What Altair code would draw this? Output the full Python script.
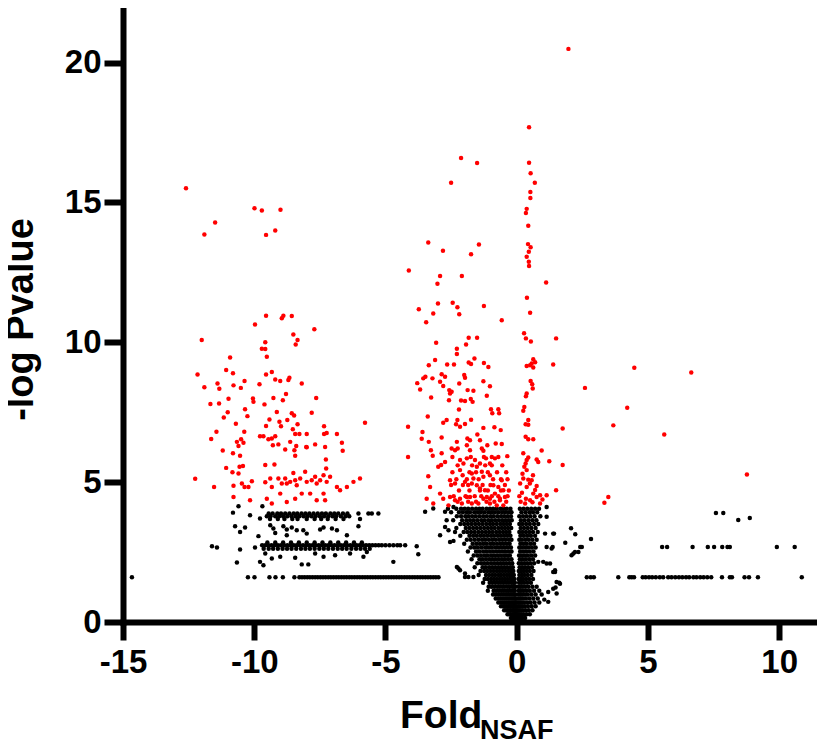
import altair as alt
import pandas as pd

X_TICKS = [-15, -10, -5, 0, 5, 10]
Y_TICKS = [0, 5, 10, 15, 20]

# ---------------- significant (red) points: (fold, -log p) ----------------
RED_COLUMN = [(1.97, 20.49), (0.47, 17.69), (0.47, 16.42), (0.53, 16.04), (0.69, 15.70), (0.52, 15.37),
              (0.52, 15.16), (0.38, 14.77), (0.35, 14.62), (0.44, 14.17), (0.43, 13.51), (0.53, 13.40),
              (0.46, 13.24), (0.38, 13.06), (0.46, 12.88), (0.47, 12.73), (1.12, 12.14), (0.39, 11.59),
              (0.51, 11.06), (0.28, 10.32), (0.35, 10.14), (1.50, 10.14), (0.54, 10.03), (0.63, 9.39),
              (0.70, 9.29), (0.57, 9.24), (1.39, 9.21), (0.51, 9.18), (0.38, 9.15), (0.63, 9.10),
              (0.53, 8.62), (0.59, 8.50), (0.61, 8.35), (0.38, 8.17), (0.35, 8.07), (0.29, 7.69),
              (0.25, 7.55), (0.44, 7.22), (0.34, 7.07), (0.44, 7.05), (1.75, 6.92), (0.34, 6.62),
              (0.44, 6.53), (0.63, 6.53), (0.95, 6.13), (0.25, 6.03), (0.44, 5.88), (0.76, 5.81),
              (0.38, 5.79), (1.24, 5.75), (0.82, 5.72), (0.34, 5.67), (1.75, 5.61), (0.29, 5.55),
              (0.38, 5.43), (0.25, 5.13), (0.44, 5.09), (0.57, 5.07), (0.13, 4.95), (0.76, 4.86),
              (0.38, 4.83), (1.50, 4.71), (0.63, 4.59), (0.89, 4.53), (1.14, 4.53), (0.35, 4.41),
              (0.76, 4.47), (0.51, 4.35), (0.32, 4.24), (0.89, 4.24), (0.15, 4.30), (0.60, 4.28),
              (0.20, 4.62), (0.70, 4.72), (0.98, 4.38), (0.10, 4.50), (0.50, 4.95), (0.22, 5.30),
              (0.62, 5.25)]

RED_RIGHT = [(4.48, 9.09), (6.65, 8.92), (2.60, 8.37), (4.21, 7.66), (3.68, 7.03), (5.62, 6.70),
             (8.77, 5.27), (3.49, 4.47), (3.34, 4.26)]

RED_MID = [(-2.12, 16.59), (-1.51, 16.41), (-2.50, 15.70), (-3.37, 13.57), (-2.81, 13.27), (-1.44, 13.50),
           (-1.74, 13.15), (-4.11, 12.57), (-2.92, 12.37), (-2.09, 12.37), (-3.02, 12.09), (-3.73, 11.18),
           (-3.18, 11.03), (-3.00, 11.39), (-2.44, 11.41), (-2.26, 11.25), (-2.19, 11.00), (-1.25, 11.30),
           (-3.45, 10.72), (-0.57, 10.79), (-3.07, 9.98), (-2.28, 9.77), (-2.28, 9.58), (-1.93, 9.92),
           (-1.83, 10.16), (-1.51, 10.16), (-3.11, 9.37), (-3.35, 9.18), (-2.65, 9.21), (-2.39, 9.21),
           (-1.83, 9.28), (-1.74, 9.22), (-1.61, 9.42), (-1.25, 9.26), (-1.08, 9.12), (-3.48, 8.77),
           (-3.56, 8.71), (-3.21, 8.71), (-2.86, 8.86), (-2.73, 8.77), (-2.00, 8.83), (-1.97, 8.73),
           (-3.79, 8.54), (-2.92, 8.59), (-3.68, 8.31), (-1.27, 8.61), (-1.02, 8.43), (-2.80, 8.44),
           (-2.57, 8.29), (-2.48, 8.23), (-2.54, 8.17), (-2.19, 8.53), (-1.87, 8.29), (-1.65, 8.27),
           (-3.26, 8.03), (-2.58, 7.93), (-2.12, 7.92), (-1.97, 7.90), (-1.75, 7.97), (-1.68, 7.87),
           (-1.14, 8.09), (-2.20, 7.60), (-0.98, 7.61), (-0.70, 7.61), (-0.93, 7.46), (-0.67, 7.46),
           (-3.39, 7.35), (-2.67, 7.22), (-2.80, 7.12), (-2.26, 7.22), (-2.31, 7.07), (-2.16, 6.98),
           (-1.97, 7.08), (-1.74, 7.23), (-1.27, 6.94), (-0.85, 6.96), (-0.61, 6.86), (-4.14, 6.98),
           (-3.59, 6.79), (-3.62, 6.55), (-2.86, 6.60), (-2.28, 6.44), (-1.88, 6.56), (-1.78, 6.50),
           (-1.50, 6.70), (-1.40, 6.50), (-1.12, 6.32), (-0.80, 6.38), (-3.35, 6.44), (-3.27, 6.14),
           (-2.48, 6.20), (-2.35, 6.14), (-2.25, 6.20), (-1.90, 6.32), (-1.78, 6.14), (-1.33, 6.20),
           (-1.27, 6.12), (-0.57, 6.36), (-4.14, 5.90), (-3.20, 5.94), (-2.86, 6.03), (-2.73, 5.72),
           (-2.16, 5.79), (-2.03, 5.67), (-1.90, 5.85), (-1.59, 5.79), (-1.52, 5.55), (-1.40, 5.67),
           (-1.17, 5.85), (-1.02, 5.67), (-0.83, 5.85), (-0.70, 5.90), (-0.36, 5.93), (-3.37, 5.21),
           (-3.30, 4.83), (-2.99, 5.55), (-2.88, 5.61), (-2.54, 5.07), (-2.35, 4.95), (-2.16, 5.43),
           (-2.06, 5.25), (-1.97, 5.01), (-1.71, 5.31), (-1.65, 5.13), (-1.52, 4.89), (-1.71, 4.95),
           (-1.33, 5.37), (-1.27, 5.19), (-1.40, 4.77), (-1.21, 4.71), (-1.02, 5.25), (-0.89, 4.89),
           (-0.83, 4.59), (-0.70, 4.83), (-0.57, 5.07), (-0.51, 4.71), (-0.45, 4.47), (-0.64, 4.41),
           (-3.43, 4.41), (-2.92, 4.59), (-2.54, 4.47), (-2.16, 4.41), (-1.78, 4.47), (-1.14, 4.47),
           (-1.02, 4.41), (-3.18, 4.24), (-2.80, 4.41), (-2.60, 4.17), (-2.35, 4.35), (-2.09, 4.24),
           (-1.90, 4.47), (-1.71, 4.24), (-1.46, 4.24), (-1.27, 4.41), (-1.02, 4.24), (-0.76, 4.17),
           (-0.64, 4.35), (-0.51, 4.17)]

RED_MID_ROWS = [(4.30, [-2.25, -1.85, -1.55, -1.15, -0.85, -0.40]),
                (4.50, [-2.40, -1.95, -1.60, -1.35, -0.95, -0.70, -0.35]),
                (4.70, [-2.20, -1.80, -1.40, -1.10, -0.60, -0.30]),
                (4.90, [-2.50, -2.05, -1.85, -1.30, -1.00, -0.45]),
                (5.10, [-2.30, -1.90, -1.45, -0.90, -0.60, -0.35]),
                (5.35, [-2.45, -1.80, -1.55, -1.10, -0.75, -0.40]),
                (5.60, [-2.25, -1.70, -1.20, -0.95, -0.55]),
                (5.90, [-2.45, -1.75, -1.25, -0.95])]

RED_LEFT = [(-12.60, 15.51), (-9.99, 14.79), (-9.71, 14.71), (-9.00, 14.74), (-11.49, 14.28), (-11.90, 13.85),
            (-9.55, 13.84), (-9.20, 14.00), (-9.55, 10.95), (-8.95, 10.86), (-8.89, 10.95), (-8.57, 10.94),
            (-9.97, 10.64), (-7.71, 10.47), (-12.00, 10.08), (-8.51, 10.28), (-8.35, 10.08), (-8.42, 9.92),
            (-9.58, 10.00), (-9.71, 9.77), (-9.58, 9.76), (-9.52, 9.48), (-10.92, 9.46), (-12.16, 8.85),
            (-11.07, 9.01), (-10.81, 8.89), (-9.55, 8.85), (-9.33, 8.94), (-9.01, 8.62), (-9.20, 8.67),
            (-8.70, 8.65), (-8.66, 8.73), (-8.19, 8.53), (-11.90, 8.39), (-11.40, 8.53), (-11.33, 8.34),
            (-10.79, 8.46), (-10.51, 8.37), (-10.37, 8.62), (-9.80, 8.50), (-10.05, 7.99), (-10.03, 7.87),
            (-9.61, 7.78), (-9.27, 8.01), (-8.91, 7.93), (-8.79, 8.15), (-10.98, 7.98), (-11.67, 7.79),
            (-11.34, 7.81), (-7.64, 8.01), (-10.35, 7.61), (-11.01, 7.50), (-11.16, 7.31), (-10.26, 7.36),
            (-9.14, 7.51), (-9.42, 7.24), (-8.57, 7.46), (-8.48, 7.38), (-8.74, 7.22), (-9.04, 7.16),
            (-8.98, 7.00), (-7.81, 7.48), (-10.70, 7.09), (-10.38, 6.80), (-9.55, 7.01), (-8.35, 7.07),
            (-8.53, 6.89), (-7.34, 7.00), (-5.78, 7.12), (-11.44, 6.80), (-9.78, 6.64), (-9.65, 6.64),
            (-9.46, 6.53), (-9.33, 6.56), (-9.20, 6.64), (-8.44, 6.72), (-8.28, 6.72), (-8.00, 6.72),
            (-7.34, 6.72), (-7.24, 6.76), (-6.85, 6.72), (-11.64, 6.54), (-10.50, 6.53), (-10.41, 6.41),
            (-10.66, 6.44), (-10.60, 6.29), (-9.29, 6.32), (-9.08, 6.35), (-8.63, 6.44), (-8.40, 6.29),
            (-8.02, 6.26), (-7.68, 6.35), (-6.66, 6.41), (-11.20, 6.13), (-10.81, 6.03), (-10.54, 5.94),
            (-8.82, 6.17), (-8.47, 6.14), (-8.44, 5.94), (-8.00, 6.25), (-7.30, 6.26), (-6.63, 6.12),
            (-9.58, 5.61), (-9.23, 5.63), (-7.27, 5.81), (-7.26, 5.49), (-11.07, 5.51), (-10.83, 5.35),
            (-10.56, 5.55), (-10.43, 5.58), (-10.60, 5.31), (-12.25, 5.12), (-11.53, 4.83), (-10.79, 4.87),
            (-10.47, 4.95), (-10.37, 4.83), (-10.22, 4.83), (-10.09, 5.03), (-9.58, 5.00), (-9.39, 5.13),
            (-9.33, 4.83), (-9.08, 5.13), (-8.95, 4.95), (-8.82, 5.13), (-8.76, 4.95), (-8.63, 5.01),
            (-8.51, 5.33), (-8.44, 5.07), (-8.38, 4.89), (-8.25, 5.13), (-8.06, 5.37), (-8.00, 5.01),
            (-7.81, 5.07), (-7.68, 5.19), (-7.62, 4.95), (-7.49, 5.07), (-7.36, 5.25), (-7.24, 5.01),
            (-7.11, 5.19), (-6.85, 4.83), (-6.73, 4.71), (-6.47, 4.83), (-6.22, 5.01), (-5.97, 5.13),
            (-10.79, 4.47), (-10.16, 4.35), (-9.52, 4.41), (-9.33, 4.24), (-9.01, 4.59), (-8.76, 4.29),
            (-8.44, 4.41), (-8.19, 4.59), (-7.87, 4.59), (-7.62, 4.35), (-7.36, 4.59), (-7.30, 4.35)]

# ---------------- non-significant (black) points ----------------
BLACK_SCATTER = [(-10.60, 4.14), (-9.69, 4.14), (-10.81, 3.91), (-10.16, 3.82), (-9.78, 3.70), (-10.73, 3.42),
                 (-10.54, 3.22), (-10.35, 3.38), (-9.84, 3.07), (-9.39, 3.46), (-9.27, 3.34), (-9.20, 3.18),
                 (-8.89, 3.42), (-8.76, 3.31), (-8.57, 3.38), (-8.38, 3.28), (-8.13, 3.28), (-8.00, 3.16),
                 (-8.76, 3.10), (-7.49, 3.31), (-7.36, 3.38), (-7.04, 3.34), (-6.85, 3.28), (-6.47, 3.10),
                 (-6.03, 3.42), (-11.61, 2.71), (-11.42, 2.66), (-10.54, 2.59), (-9.97, 2.66), (-3.81, 2.71),
                 (-3.75, 2.42), (-10.66, 2.13), (-9.78, 2.15), (-9.65, 2.03), (-9.58, 2.45), (-9.33, 2.27),
                 (-9.01, 2.33), (-8.44, 2.30), (-8.19, 2.06), (-7.94, 2.06), (-7.68, 2.45), (-7.36, 2.33),
                 (-6.92, 2.39), (-6.35, 2.45), (-5.84, 2.33), (-5.71, 2.50), (-4.70, 2.15),
                 (-3.49, 3.94), (-3.18, 4.06), (-2.92, 3.10), (-2.73, 3.40), (-2.60, 3.28), (-2.73, 3.94),
                 (-2.41, 4.11), (-2.67, 3.64), (-2.35, 3.22), (-2.54, 2.86), (-2.41, 2.90), (-2.22, 1.91),
                 (-1.97, 1.61), (-1.65, 1.61), (-2.28, 1.97), (-2.16, 1.85), (-1.97, 1.73), (-1.84, 1.61),
                 (1.08, 3.16), (1.39, 3.16), (1.14, 2.68), (1.33, 2.63), (0.82, 2.15), (1.14, 2.09),
                 (1.39, 1.79), (1.52, 1.43), (1.20, 1.07), (1.39, 1.19), (1.42, 3.16), (2.07, 3.35),
                 (2.23, 3.14), (1.85, 2.83), (2.83, 2.97), (2.42, 2.68), (2.35, 2.50), (2.22, 2.50),
                 (2.09, 2.39), (1.37, 2.68), (1.27, 2.09), (1.46, 1.79), (1.62, 1.40), (1.48, 1.23),
                 (1.65, 1.37), (1.52, 1.02), (2.48, 2.68), (2.16, 2.45), (1.20, 0.72), (1.14, 4.11),
                 (1.14, 3.76), (1.01, 2.15), (1.46, 1.85), (1.05, 0.80),
                 (7.59, 3.90), (7.87, 3.90), (8.44, 3.65), (8.88, 3.72)]

BAND_16_Y = 1.6
BAND_16_X = [-14.66, -10.24, -9.99, -9.42, -9.19, -8.91, -8.47,
             -8.28, -8.18, -8.08, -7.98, -7.88, -7.78, -7.68, -7.58, -7.48, -7.38, -7.28, -7.18, -7.08,
             -6.98, -6.88, -6.78, -6.68, -6.58, -6.48, -6.38, -6.28, -6.18, -6.08, -5.98, -5.88, -5.78,
             -5.68, -5.58, -5.48, -5.38, -5.28, -5.18, -5.08, -4.98, -4.88, -4.78, -4.68, -4.58, -4.48,
             -4.38, -4.28, -4.18, -4.08, -3.98, -3.88, -3.78, -3.68, -3.58, -3.48, -3.38, -3.28, -3.18,
             -3.08, -2.98,
             2.67, 2.82, 2.94, 3.87, 4.29, 4.38, 4.47, 4.80, 4.91, 5.04, 5.16, 5.30, 5.45, 5.58, 5.77,
             5.90, 6.04, 6.18, 6.31, 6.45, 6.57, 6.73, 6.85, 6.99, 7.12, 7.26, 7.41, 7.82, 8.12, 8.20,
             8.68, 8.85, 9.19, 10.86]

BAND_ROWS = [(2.74, [-9.70, -9.58, -9.46, -9.34, -9.22, -9.10, -8.98, -8.86, -8.74, -8.62, -8.50, -8.38,
                     -8.26, -8.14, -8.02, -7.90, -7.78, -7.66, -7.54, -7.42, -7.30, -7.18, -7.06, -6.94,
                     -6.82, -6.70, -6.58, -6.46, -6.34, -6.22, -6.10, -5.98, -5.86, -5.74, -5.62, -5.50,
                     -5.38, -5.26, -5.14, -5.00, -4.85, -4.70, -4.55, -4.44, -4.25]),
             (2.62, [-9.64, -9.45, -9.28, -9.10, -8.92, -8.75, -8.58, -8.40, -8.22, -8.05, -7.88, -7.70,
                     -7.52, -7.35, -7.18, -7.00, -6.82, -6.65, -6.48, -6.30, -6.12, -5.95, -5.78, -5.60]),
             (2.84, [-9.50, -9.20, -8.90, -8.60, -8.30, -8.00, -7.70, -7.40, -7.10, -6.80, -6.50, -6.20,
                     -5.90]),
             (2.68, [5.54, 5.73, 6.70, 7.28, 7.52, 7.83, 8.03, 8.12, 9.91, 10.59]),
             (3.88, [-9.45, -9.30, -9.12, -8.98, -8.82, -8.66, -8.50, -8.36, -8.20, -8.05, -7.90, -7.74,
                     -7.58, -7.42, -7.27, -7.10, -6.95, -6.80, -6.62, -6.45, -6.03, -5.65, -5.52, -5.27]),
             (3.78, [-9.52, -9.38, -9.20, -9.05, -8.90, -8.74, -8.58, -8.42, -8.28, -8.12, -7.97, -7.82,
                     -7.66, -7.50, -7.34, -7.18, -7.02, -6.88, -6.70, -6.52, -6.38]),
             (3.68, [-9.40, -9.10, -8.85, -8.55, -8.35, -8.00, -7.70, -7.45, -7.20, -6.90, -6.60, -5.97])]

V_LEFT_ROWS = [(4.05, [-2.62, -2.30, -2.12, -1.98, -1.85, -1.70, -1.55, -1.42, -1.30, -1.15, -1.02, -0.90, -0.76, -0.62, -0.50, -0.38, -0.24]),
               (3.92, [-2.50, -2.20, -2.05, -1.90, -1.78, -1.62, -1.48, -1.36, -1.22, -1.08, -0.95, -0.83, -0.70, -0.56, -0.44, -0.30, -0.20]),
               (3.78, [-2.28, -2.12, -1.96, -1.84, -1.70, -1.56, -1.42, -1.28, -1.14, -1.00, -0.88, -0.74, -0.60, -0.48, -0.35, -0.22]),
               (3.64, [-2.42, -2.08, -1.92, -1.78, -1.64, -1.50, -1.35, -1.22, -1.08, -0.95, -0.82, -0.68, -0.55, -0.42, -0.30, -0.19]),
               (3.50, [-2.15, -2.00, -1.86, -1.72, -1.58, -1.44, -1.30, -1.16, -1.02, -0.90, -0.76, -0.62, -0.50, -0.38, -0.26]),
               (3.36, [-2.30, -1.94, -1.80, -1.66, -1.52, -1.38, -1.24, -1.10, -0.97, -0.84, -0.70, -0.57, -0.45, -0.33, -0.21]),
               (3.22, [-2.02, -1.88, -1.74, -1.60, -1.46, -1.32, -1.18, -1.05, -0.92, -0.78, -0.65, -0.52, -0.40, -0.28]),
               (3.08, [-2.15, -1.80, -1.66, -1.52, -1.38, -1.25, -1.12, -0.98, -0.86, -0.72, -0.60, -0.48, -0.36, -0.24]),
               (2.94, [-1.90, -1.75, -1.60, -1.46, -1.32, -1.20, -1.06, -0.93, -0.80, -0.67, -0.55, -0.43, -0.30, -0.20]),
               (2.80, [-2.00, -1.68, -1.54, -1.40, -1.27, -1.14, -1.00, -0.88, -0.75, -0.62, -0.50, -0.38, -0.27]),
               (2.66, [-1.76, -1.62, -1.48, -1.34, -1.20, -1.08, -0.95, -0.82, -0.70, -0.58, -0.46, -0.34, -0.22]),
               (2.52, [-1.86, -1.55, -1.42, -1.28, -1.15, -1.02, -0.90, -0.77, -0.65, -0.53, -0.42, -0.30, -0.20]),
               (2.38, [-1.64, -1.50, -1.36, -1.22, -1.10, -0.97, -0.85, -0.72, -0.60, -0.48, -0.37, -0.26]),
               (2.24, [-1.72, -1.42, -1.30, -1.17, -1.04, -0.92, -0.80, -0.68, -0.56, -0.45, -0.33, -0.20]),
               (2.10, [-1.50, -1.36, -1.24, -1.11, -0.98, -0.86, -0.74, -0.62, -0.51, -0.40, -0.28, -0.17]),
               (1.96, [-1.60, -1.30, -1.18, -1.05, -0.93, -0.81, -0.69, -0.58, -0.47, -0.36, -0.24, -0.15]),
               (1.82, [-1.38, -1.24, -1.12, -1.00, -0.88, -0.76, -0.65, -0.54, -0.43, -0.32, -0.22, -0.13]),
               (1.68, [-1.45, -1.17, -1.05, -0.93, -0.82, -0.70, -0.60, -0.49, -0.38, -0.28, -0.19, -0.11]),
               (1.54, [-1.22, -1.10, -0.98, -0.87, -0.76, -0.65, -0.55, -0.45, -0.35, -0.25, -0.16, -0.09]),
               (1.40, [-1.28, -1.03, -0.92, -0.81, -0.70, -0.60, -0.50, -0.40, -0.30, -0.20, -0.13, -0.07]),
               (1.26, [-1.07, -0.96, -0.85, -0.74, -0.64, -0.54, -0.45, -0.35, -0.26, -0.17, -0.10, -0.05]),
               (1.12, [-1.10, -0.88, -0.78, -0.68, -0.58, -0.49, -0.40, -0.31, -0.22, -0.14, -0.07]),
               (0.98, [-0.90, -0.80, -0.70, -0.61, -0.52, -0.43, -0.35, -0.27, -0.19, -0.11, -0.05]),
               (0.84, [-0.80, -0.71, -0.62, -0.54, -0.46, -0.38, -0.30, -0.22, -0.15, -0.08, -0.03]),
               (0.70, [-0.70, -0.62, -0.54, -0.46, -0.39, -0.32, -0.25, -0.18, -0.12, -0.06, -0.01]),
               (0.56, [-0.60, -0.52, -0.45, -0.38, -0.31, -0.25, -0.19, -0.13, -0.08, -0.03]),
               (0.42, [-0.48, -0.41, -0.35, -0.29, -0.23, -0.17, -0.12, -0.07, -0.02]),
               (0.28, [-0.35, -0.29, -0.23, -0.17, -0.12, -0.07, -0.03, 0.00]),
               (0.14, [-0.22, -0.16, -0.11, -0.06, -0.02, 0.01]),
               (0.04, [-0.10, -0.05, -0.01, 0.02])]

V_RIGHT_ROWS = [(4.05, [0.12, 0.26, 0.40, 0.55, 0.70, 0.85]),
                (3.92, [0.18, 0.33, 0.48, 0.62, 0.78]),
                (3.78, [0.10, 0.24, 0.38, 0.52, 0.68, 0.90]),
                (3.64, [0.16, 0.30, 0.45, 0.60, 0.75]),
                (3.50, [0.10, 0.22, 0.36, 0.50, 0.66, 0.82]),
                (3.36, [0.15, 0.28, 0.42, 0.56, 0.72]),
                (3.22, [0.10, 0.22, 0.35, 0.48, 0.62, 0.80]),
                (3.08, [0.14, 0.27, 0.40, 0.54, 0.70]),
                (2.94, [0.10, 0.20, 0.33, 0.46, 0.60, 0.76]),
                (2.80, [0.14, 0.26, 0.38, 0.52, 0.66]),
                (2.66, [0.10, 0.20, 0.32, 0.44, 0.58, 0.72]),
                (2.52, [0.13, 0.25, 0.37, 0.50, 0.64]),
                (2.38, [0.09, 0.19, 0.30, 0.42, 0.55, 0.70]),
                (2.24, [0.12, 0.23, 0.35, 0.48, 0.62]),
                (2.10, [0.08, 0.18, 0.29, 0.40, 0.52, 0.66]),
                (1.96, [0.11, 0.21, 0.32, 0.44, 0.58]),
                (1.82, [0.08, 0.17, 0.27, 0.38, 0.50, 0.64]),
                (1.68, [0.10, 0.20, 0.30, 0.42, 0.56]),
                (1.54, [0.07, 0.16, 0.25, 0.36, 0.48, 0.62]),
                (1.40, [0.09, 0.18, 0.28, 0.40, 0.54]),
                (1.26, [0.06, 0.14, 0.23, 0.33, 0.45, 0.60, 0.76]),
                (1.12, [0.08, 0.16, 0.26, 0.37, 0.50, 0.66, 0.86]),
                (0.98, [0.05, 0.13, 0.21, 0.31, 0.42, 0.56, 0.72, 0.95]),
                (0.84, [0.07, 0.15, 0.24, 0.35, 0.48, 0.63, 0.80]),
                (0.70, [0.04, 0.11, 0.19, 0.28, 0.40, 0.53, 0.68, 0.86]),
                (0.56, [0.06, 0.13, 0.21, 0.31, 0.43, 0.57, 0.72]),
                (0.42, [0.03, 0.09, 0.16, 0.24, 0.34, 0.46, 0.60]),
                (0.28, [0.05, 0.11, 0.18, 0.27, 0.38, 0.50]),
                (0.14, [0.03, 0.08, 0.14, 0.22, 0.32]),
                (0.04, [0.04, 0.09, 0.15])]


def rows_to_pairs(rows):
    return [(x, y) for y, xs in rows for x in xs]


red_pairs = RED_COLUMN + RED_RIGHT + RED_MID + rows_to_pairs(RED_MID_ROWS) + RED_LEFT
black_pairs = (BLACK_SCATTER + [(x, BAND_16_Y) for x in BAND_16_X] + rows_to_pairs(BAND_ROWS)
               + rows_to_pairs(V_LEFT_ROWS) + rows_to_pairs(V_RIGHT_ROWS))

df_black = pd.DataFrame(black_pairs, columns=["fold", "nlogp"])
df_red = pd.DataFrame(red_pairs, columns=["fold", "nlogp"])

FONT = "Liberation Sans"

x_enc = alt.X("fold:Q",
              scale=alt.Scale(domain=[-15, 11.44], nice=False, zero=False),
              axis=alt.Axis(values=X_TICKS, title=None, grid=False,
                            labelExpr="'' + datum.value",
                            domainColor="black", domainWidth=6, domainCap="square",
                            tickColor="black", tickWidth=6, tickSize=18,
                            labelFont=FONT, labelFontSize=33, labelFontWeight="bold",
                            labelColor="black", labelPadding=6, labelFlush=False,
                            labelOverlap=False, labelBound=False))
y_enc = alt.Y("nlogp:Q",
              scale=alt.Scale(domain=[0, 21.88], nice=False),
              axis=alt.Axis(values=Y_TICKS, title="-log Pvalue", grid=False,
                            domainColor="black", domainWidth=6, domainCap="square",
                            tickColor="black", tickWidth=6, tickSize=19,
                            labelFont=FONT, labelFontSize=33, labelFontWeight="bold",
                            labelColor="black", labelPadding=3, labelFlush=False,
                            labelOverlap=False, labelBound=False,
                            titleFont=FONT, titleFontSize=38, titleFontWeight="bold",
                            titleColor="black", titleAngle=-90, titleAlign="center",
                            titleBaseline="alphabetic", titleX=-91, titleY=309))

black = alt.Chart(df_black).mark_circle(size=20, opacity=1, color="#000000").encode(x=x_enc, y=y_enc)
red = alt.Chart(df_red).mark_circle(size=20, opacity=1, color="#ff0000").encode(x="fold:Q", y="nlogp:Q")

title_main = alt.Chart(pd.DataFrame({"t": ["Fold"]})).mark_text(
    align="left", baseline="alphabetic", font=FONT, fontWeight="bold", fontSize=39, color="black"
).encode(x=alt.value(277), y=alt.value(718), text="t:N")
title_sub = alt.Chart(pd.DataFrame({"t": ["NSAF"]})).mark_text(
    align="left", baseline="alphabetic", font=FONT, fontWeight="bold", fontSize=27, color="black"
).encode(x=alt.value(357), y=alt.value(729), text="t:N")

chart = alt.layer(black, red, title_main, title_sub).properties(
    width=694, height=612,
    autosize=alt.AutoSizeParams(type="none"),
    padding={"left": 115, "top": 2, "right": 0, "bottom": 120},
).configure_view(stroke=None)

chart.save("out.html", embed_options={"renderer": "svg", "actions": False})
